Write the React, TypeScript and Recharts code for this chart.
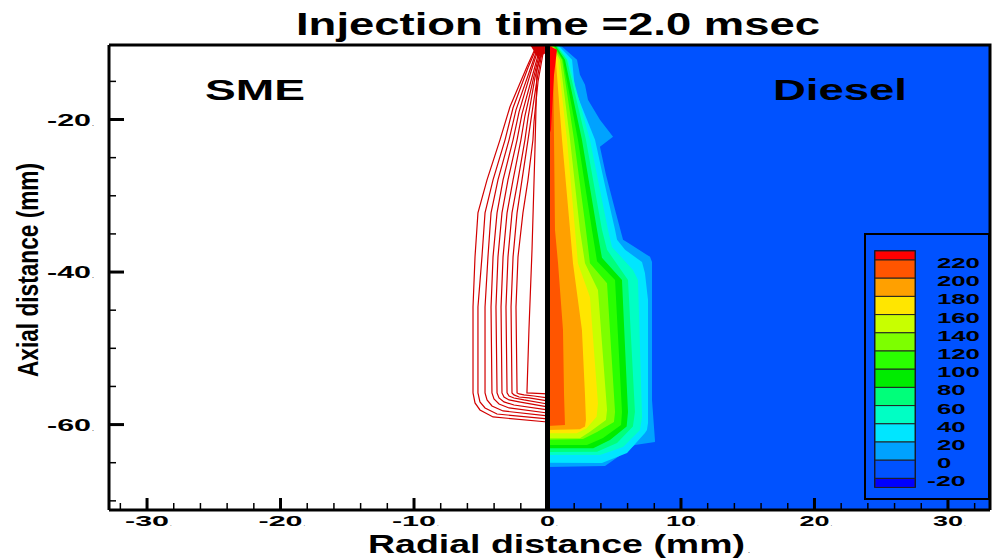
import React from 'react';
import { ScatterChart, Scatter, XAxis, YAxis, Legend } from 'recharts';

type Pt = [number, number];

// ---- axes ----
const X_DOMAIN: [number, number] = [-32.85, 33.15];
const Y_DOMAIN: [number, number] = [-71.2, -10.23];
const xTicks = [-32, -30, -28, -26, -24, -22, -20, -18, -16, -14, -12, -10, -8, -6, -4, -2, 0, 2, 4, 6, 8, 10, 12, 14, 16, 18, 20, 22, 24, 26, 28, 30, 32];
const xMajorTicks = [-30, -20, -10, 0, 10, 20, 30];
const yTicks = [-15, -20, -25, -30, -35, -40, -45, -50, -55, -60, -65, -70];
const yMajorTicks = [-20, -40, -60];

// ---- colour legend ----
const legendLevels = [220, 200, 180, 160, 140, 120, 100, 80, 60, 40, 20, 0, -20];
const legendColors = ['#FF0000', '#FF5500', '#FFA000', '#FFE600', '#C8FF00', '#7DFF00', '#2AFF00', '#00EC00', '#00FF7A', '#00FFC4', '#00E6FF', '#00A2FF', '#0052FF', '#0000FF'];

// ---- Diesel (filled contours, region >= level), mm ----
const dieselBackground: Pt[] = [[0, -10.23], [33.15, -10.23], [33.15, -71.2], [0, -71.2]];
const dieselGe0: Pt[] = [[0, -10.23], [0.94, -10.23], [2.21, -12.17], [2.43, -14.14], [2.81, -15.45], [3.03, -17.42], [3.93, -20.04], [4.91, -22.27], [3.93, -23.58], [4.38, -27.25], [5.06, -31.84], [5.66, -35.78], [6.03, -36.17], [7.68, -38.01], [7.83, -38.67], [7.83, -56.77], [8.05, -62.02], [8.05, -62.28], [6.55, -62.67], [4.31, -65.43], [0, -65.56]];
const dieselGe20: Pt[] = [[0, -10.23], [0.79, -10.23], [1.84, -12.17], [2.06, -16.1], [3.56, -22.66], [4.38, -29.22], [5.06, -34.47], [5.21, -35.78], [5.81, -37.09], [7.08, -38.67], [7.3, -40.11], [7.53, -43.65], [7.53, -59.79], [7.45, -60.71], [7.3, -61.1], [5.96, -63.72], [4.08, -65.04], [0, -65.0]];
const dieselGe40: Pt[] = [[0, -10.23], [0.71, -10.23], [1.54, -12.17], [3.18, -22.66], [4.53, -34.47], [4.83, -36.7], [6.4, -39.72], [6.78, -41.03], [7.08, -59.0], [6.93, -60.71], [5.66, -62.93], [3.93, -63.99], [0, -63.99]];
const dieselGe60: Pt[] = [[0, -10.23], [0.64, -10.23], [1.46, -12.17], [2.88, -22.66], [4.08, -34.47], [4.46, -37.09], [6.03, -41.03], [6.55, -58.34], [6.4, -60.24], [5.21, -62.41], [3.71, -63.55], [0, -63.59]];
const dieselGe80: Pt[] = [[0, -10.23], [0.56, -10.23], [1.31, -12.17], [2.58, -22.66], [3.71, -34.47], [4.08, -38.13], [5.58, -41.03], [6.03, -58.34], [5.93, -60.24], [4.68, -62.02], [3.43, -63.1], [0, -63.1]];
const dieselGe100: Pt[] = [[0, -10.23], [0.49, -10.23], [1.16, -12.17], [2.28, -22.66], [3.33, -34.47], [3.71, -38.57], [5.06, -41.03], [5.58, -58.34], [5.51, -60.05], [4.16, -61.76], [2.96, -62.67], [0, -62.67]];
const dieselGe120: Pt[] = [[0, -10.23], [0.41, -10.23], [1.09, -12.17], [1.99, -22.66], [2.88, -34.47], [3.18, -38.84], [4.46, -41.47], [5.06, -58.34], [4.98, -59.65], [3.71, -60.97], [2.66, -61.9], [0, -61.98]];
const dieselGe140: Pt[] = [[0, -10.23], [0.34, -10.23], [0.94, -12.17], [1.69, -22.66], [2.43, -34.47], [2.81, -38.84], [3.78, -42.34], [4.46, -58.08], [4.38, -59.39], [3.18, -60.93], [2.43, -61.8], [0, -61.8]];
const dieselGe160: Pt[] = [[0, -10.23], [0.26, -10.23], [0.79, -12.17], [1.46, -22.66], [2.06, -34.47], [2.28, -38.84], [3.18, -43.26], [3.78, -57.2], [3.68, -58.96], [2.93, -60.48], [2.19, -61.14], [0, -61.14]];
const dieselGe180: Pt[] = [[0, -10.23], [0.19, -10.23], [0.56, -10.86], [1.09, -22.66], [1.69, -34.47], [1.91, -38.84], [2.58, -47.59], [2.81, -56.12], [2.88, -59.39], [2.81, -60.24], [2.43, -60.6], [0, -60.71]];
const dieselGe200: Pt[] = [[0, -10.23], [0.41, -12.17], [0.49, -22.66], [0.56, -34.47], [0.79, -38.84], [1.16, -47.59], [1.24, -56.12], [1.31, -60.05], [0, -60.18]];
const dieselGe220: Pt[] = [[0, -10.23], [0.71, -10.86], [0.49, -14.14], [0.26, -21.35], [0, -22.66]];

const dieselBands: { pts: Pt[]; color: string }[] = [
  { pts: dieselBackground, color: legendColors[12] },
  { pts: dieselGe0, color: legendColors[11] },
  { pts: dieselGe20, color: legendColors[10] },
  { pts: dieselGe40, color: legendColors[9] },
  { pts: dieselGe60, color: legendColors[8] },
  { pts: dieselGe80, color: legendColors[7] },
  { pts: dieselGe100, color: legendColors[6] },
  { pts: dieselGe120, color: legendColors[5] },
  { pts: dieselGe140, color: legendColors[4] },
  { pts: dieselGe160, color: legendColors[3] },
  { pts: dieselGe180, color: legendColors[2] },
  { pts: dieselGe200, color: legendColors[1] },
  { pts: dieselGe220, color: legendColors[0] },
];

// ---- SME (contour lines), mm ----
const smeLoop0: Pt[] = [[-0.86, -10.46], [-1.54, -13.09], [-2.81, -18.33], [-3.56, -22.66], [-4.53, -27.91], [-5.21, -32.24], [-5.43, -38.01], [-5.58, -44.57], [-5.58, -55.85], [-5.43, -57.16], [-5.06, -58.08], [-4.08, -59.0], [0, -59.66]];
const smeLoop1: Pt[] = [[-0.79, -10.46], [-1.46, -13.22], [-2.58, -18.46], [-3.18, -22.66], [-4.08, -27.91], [-4.68, -32.24], [-4.91, -38.01], [-5.21, -44.57], [-5.21, -55.85], [-5.06, -57.03], [-4.68, -57.82], [-3.78, -58.61], [0, -59.26]];
const smeLoop2: Pt[] = [[-0.71, -10.46], [-1.31, -13.48], [-2.36, -18.73], [-2.88, -22.66], [-3.71, -27.91], [-4.23, -32.24], [-4.46, -38.01], [-4.68, -44.57], [-4.68, -55.85], [-4.53, -56.77], [-4.16, -57.56], [-3.33, -58.21], [0, -58.87]];
const smeLoop3: Pt[] = [[-0.64, -10.46], [-1.24, -13.74], [-2.13, -18.99], [-2.58, -22.66], [-3.33, -27.91], [-3.78, -32.24], [-4.08, -38.01], [-4.23, -44.57], [-4.16, -55.85], [-4.01, -56.64], [-3.63, -57.3], [-2.88, -57.82], [0, -58.48]];
const smeLoop4: Pt[] = [[-0.56, -10.59], [-1.09, -14.0], [-1.91, -19.25], [-2.28, -22.66], [-2.96, -27.91], [-3.41, -32.24], [-3.71, -38.01], [-3.86, -44.57], [-3.78, -55.85], [-3.63, -56.51], [-3.26, -57.03], [-2.51, -57.43], [0, -58.08]];
const smeLoop5: Pt[] = [[-0.49, -10.59], [-1.01, -14.27], [-1.69, -19.51], [-1.99, -22.66], [-2.58, -27.91], [-3.03, -32.24], [-3.33, -38.01], [-3.48, -44.57], [-3.41, -55.85], [-3.26, -56.38], [-2.88, -56.77], [-2.13, -57.03], [0, -57.69]];
const smeLoop6: Pt[] = [[-0.41, -10.59], [-0.94, -14.53], [-1.46, -19.78], [-1.69, -22.66], [-2.21, -27.91], [-2.66, -32.24], [-2.96, -38.01], [-3.11, -44.57], [-3.03, -55.85], [-2.88, -56.25], [-2.51, -56.51], [-1.76, -56.77], [0, -57.3]];
const smeLoop7: Pt[] = [[-0.34, -10.59], [-0.79, -14.79], [-1.24, -20.04], [-1.46, -22.66], [-1.91, -27.91], [-2.28, -32.24], [-2.58, -38.01], [-2.73, -44.57], [-2.66, -55.85], [-2.51, -56.11], [-2.13, -56.38], [-1.39, -56.51], [0, -56.9]];
const smeLoop8: Pt[] = [[-0.26, -10.59], [-0.71, -15.05], [-1.01, -20.3], [-1.09, -22.66], [-1.46, -27.91], [-1.84, -32.24], [-2.21, -38.01], [-2.36, -44.57], [-2.28, -55.85], [-2.13, -55.98], [-1.76, -56.11], [-1.01, -56.25], [0, -56.51]];
const smeLoop9: Pt[] = [[-0.34, -10.59], [-0.79, -13.48], [-0.94, -23.97], [-1.16, -37.09], [-1.39, -47.59], [-1.54, -55.85], [0, -55.98]];
const smeNozzleTip: Pt[] = [[-1.25, -10.35], [-0.2, -10.35], [-0.2, -11.3], [-0.75, -11.8]];
const smeLoops: Pt[][] = [smeLoop0, smeLoop1, smeLoop2, smeLoop3, smeLoop4, smeLoop5, smeLoop6, smeLoop7, smeLoop8, smeLoop9];

// ---- frame / nozzle axis ----
const nozzleAxis: Pt[] = [[0, -10.23], [0, -71.2]];
const frameTopRight: Pt[] = [[-32.85, -10.23], [33.15, -10.23], [33.15, -71.2]];

const toRows = (pts: Pt[]) => pts.map(([x, y]) => ({ x, y }));

const FONT = '"Liberation Sans", Arial, Helvetica, sans-serif';
const SME_RED = '#D20000';

const hiddenShape = () => <g />;

function labelWidth(v: number) {
  const s = String(Math.abs(v));
  return s.length * 15 + (v < 0 ? 14 : 0);
}

function XTick(props: any) {
  const { x, y, payload } = props;
  const v = Number(payload?.value);
  const major = xMajorTicks.includes(v);
  const w = labelWidth(v);
  return (
    <g>
      <line x1={x} y1={y} x2={x} y2={y - (major ? 12 : 7)} stroke="#000" strokeWidth={major ? 3 : 1.5} />
      {major ? (
        <g>
          <text x={x - w / 2} y={y + 16} fontSize={15} fontWeight="bold" fontFamily={FONT} fill="#000" textLength={w} lengthAdjust="spacingAndGlyphs">{String(v)}</text>
          <text x={x + w / 2 + 1} y={y + 16} fontSize={6} fontFamily={FONT} fill="#000">.</text>
        </g>
      ) : null}
    </g>
  );
}

function YTick(props: any) {
  const { x, y, payload } = props;
  const v = Number(payload?.value);
  const major = yMajorTicks.includes(v);
  const w = labelWidth(v);
  return (
    <g>
      <line x1={x} y1={y} x2={x + (major ? 15 : 7)} y2={y} stroke="#000" strokeWidth={major ? 3 : 1.5} />
      {major ? (
        <g>
          <text x={x - 18 - w} y={y + 6} fontSize={16} fontWeight="bold" fontFamily={FONT} fill="#000" textLength={w} lengthAdjust="spacingAndGlyphs">{String(v)}</text>
          <text x={x - 17} y={y + 6} fontSize={7} fontFamily={FONT} fill="#000">.</text>
        </g>
      ) : null}
    </g>
  );
}

function ColorBar() {
  const rowH = 18.2;
  const b0 = 27;
  const rows = legendColors.map((c, i) => {
    let y0: number;
    let y1: number;
    if (i === 0) { y0 = 18; y1 = b0; }
    else if (i === legendColors.length - 1) { y0 = b0 + 12 * rowH; y1 = y0 + 9; }
    else { y0 = b0 + (i - 1) * rowH; y1 = b0 + i * rowH; }
    return <rect key={i} x={11} y={y0} width={40} height={y1 - y0} fill={c} stroke="#222" strokeWidth={1} />;
  });
  const labels = legendLevels.map((lv, k) => {
    const digits = String(Math.abs(lv)).length;
    const w = digits * 14.3 + (lv < 0 ? 10 : 0);
    return (
      <text key={lv} x={73 - (lv < 0 ? 10 : 0)} y={b0 + k * rowH + 8} fontSize={15} fontWeight="bold" fontFamily={FONT} fill="#000" textLength={w} lengthAdjust="spacingAndGlyphs">{String(lv)}</text>
    );
  });
  return (
    <svg width={127} height={268} style={{ display: 'block' }}>
      <rect x={1} y={1} width={124} height={265} fill="none" stroke="#000" strokeWidth={2} />
      <rect x={11} y={18} width={40} height={236} fill="none" stroke="#000" strokeWidth={1.5} />
      {rows}
      {labels}
    </svg>
  );
}

export default function App() {
  return (
    <div style={{ position: 'absolute', left: 0, top: 0, width: 993, height: 560, background: '#fff' }}>
      <ScatterChart width={993} height={560} margin={{ top: 45, right: 3, bottom: 0, left: 0 }}>
        {dieselBands.map((b, i) => (
          <Scatter
            key={'band' + i}
            data={toRows(b.pts)}
            fill={b.color}
            line={{ fill: b.color, stroke: 'none' }}
            lineJointType="linear"
            shape={hiddenShape}
            legendType="none"
            isAnimationActive={false}
          />
        ))}
        <Scatter
          data={toRows(smeNozzleTip)}
          fill={SME_RED}
          line={{ fill: SME_RED, stroke: SME_RED, strokeWidth: 1 }}
          lineJointType="linear"
          shape={hiddenShape}
          legendType="none"
          isAnimationActive={false}
        />
        {smeLoops.map((loop, i) => (
          <Scatter
            key={'sme' + i}
            data={toRows(loop)}
            fill={SME_RED}
            line={{ fill: 'none', stroke: SME_RED, strokeWidth: 1.2 }}
            lineJointType="linear"
            shape={hiddenShape}
            legendType="none"
            isAnimationActive={false}
          />
        ))}
        <Scatter
          data={toRows(nozzleAxis)}
          fill="#000"
          line={{ fill: 'none', stroke: '#000', strokeWidth: 5 }}
          lineJointType="linear"
          shape={hiddenShape}
          legendType="none"
          isAnimationActive={false}
        />
        <Scatter
          data={toRows(frameTopRight)}
          fill="#000"
          line={{ fill: 'none', stroke: '#000', strokeWidth: 3 }}
          lineJointType="linear"
          shape={hiddenShape}
          legendType="none"
          isAnimationActive={false}
        />
        <XAxis
          type="number"
          dataKey="x"
          domain={X_DOMAIN}
          ticks={xTicks}
          interval={0}
          tickSize={0}
          tickMargin={0}
          tickLine={false}
          tick={(p: any) => <XTick {...p} />}
          axisLine={{ stroke: '#000', strokeWidth: 3 }}
          height={50}
          zIndex={700}
        />
        <YAxis
          type="number"
          dataKey="y"
          domain={Y_DOMAIN}
          ticks={yTicks}
          interval={0}
          tickSize={0}
          tickMargin={0}
          tickLine={false}
          tick={(p: any) => <YTick {...p} />}
          axisLine={{ stroke: '#000', strokeWidth: 3 }}
          width={109}
          zIndex={700}
        />
        <Legend
          layout="vertical"
          align="center"
          verticalAlign="middle"
          content={() => <ColorBar />}
          wrapperStyle={{ position: 'absolute', left: 864, top: 233, width: 127, height: 268 }}
        />
      </ScatterChart>
      <svg width={993} height={560} style={{ position: 'absolute', left: 0, top: 0, pointerEvents: 'none' }}>
        <text x={296} y={35} fontSize={32} fontWeight="bold" fontFamily={FONT} fill="#000" textLength={524} lengthAdjust="spacingAndGlyphs">Injection time =2.0 msec</text>
        <text x={205} y={100} fontSize={29} fontWeight="bold" fontFamily={FONT} fill="#000" textLength={100} lengthAdjust="spacingAndGlyphs">SME</text>
        <text x={773} y={100} fontSize={29} fontWeight="bold" fontFamily={FONT} fill="#000" textLength={134} lengthAdjust="spacingAndGlyphs">Diesel</text>
        <text x={368} y={553} fontSize={25} fontWeight="bold" fontFamily={FONT} fill="#000" textLength={377} lengthAdjust="spacingAndGlyphs">Radial distance (mm)</text>
        <text x={748} y={553} fontSize={7} fontFamily={FONT} fill="#000">.</text>
        <text transform="translate(38,270) rotate(-90)" x={0} y={0} textAnchor="middle" fontSize={30} fontWeight="bold" fontFamily={FONT} fill="#000" textLength={214} lengthAdjust="spacingAndGlyphs">Axial distance (mm)</text>
      </svg>
    </div>
  );
}
